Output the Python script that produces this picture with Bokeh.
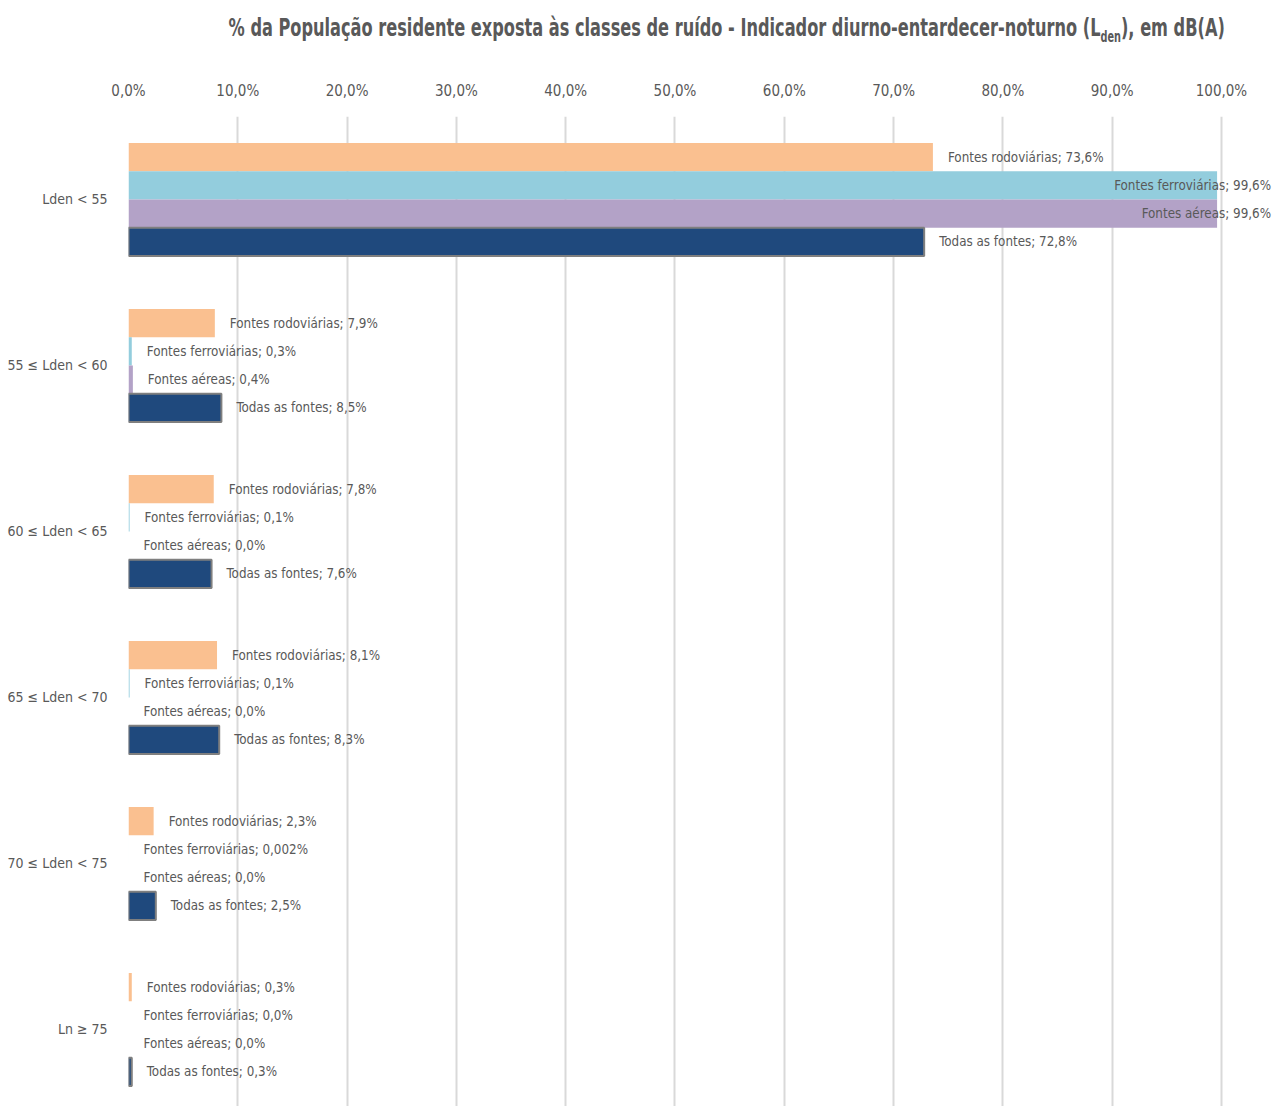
from bokeh.plotting import figure
from bokeh.models import Range1d, FixedTicker, ColumnDataSource, Div
from bokeh.layouts import column
from bokeh.core.properties import value
from bokeh.embed import file_html
from bokeh.resources import INLINE

# ---- data ----
categories = ["Lden < 55", "55 ≤ Lden < 60", "60 ≤ Lden < 65", "65 ≤ Lden < 70", "70 ≤ Lden < 75", "Ln ≥ 75"]
series_names = ["Fontes rodoviárias", "Fontes ferroviárias", "Fontes aéreas", "Todas as fontes"]
rodoviarias = [73.6, 7.9, 7.8, 8.1, 2.3, 0.3]
ferroviarias = [99.6, 0.3, 0.1, 0.1, 0.002, 0.0]
aereas = [99.6, 0.4, 0.0, 0.0, 0.0, 0.0]
todas = [72.8, 8.5, 7.6, 8.3, 2.5, 0.3]
x_ticks = [0, 10, 20, 30, 40, 50, 60, 70, 80, 90, 100]

FONT = "DejaVu Sans Condensed"
TXT = "#595959"
colors = ["#FAC090", "#93CDDD", "#B3A2C7", "#1F497D"]
offsets = [-0.255, -0.085, 0.085, 0.255]
BAR_H = 0.17

W = 1272
TITLE_H = 58
H = 1106 - TITLE_H

p = figure(width=W, height=H, x_range=Range1d(0, 104.67), y_range=Range1d(5.464, -0.5),
           x_axis_location="above", output_backend="svg", toolbar_location=None,
           min_border_left=128, min_border_right=0, min_border_top=TITLE_H, min_border_bottom=0,
           margin=(0, 0, 0, 0))
p.outline_line_color = None
p.background_fill_color = "white"
p.border_fill_color = "white"

def fmt(v):
    if 0 < v < 0.05:
        s = f"{v:.3f}"
    else:
        s = f"{v:.1f}"
    return s.replace(".", ",") + "%"

all_series = [rodoviarias, ferroviarias, aereas, todas]
lab_x, lab_y, lab_t, lab_al, lab_off = [], [], [], [], []
for si, (vals, col, off, name) in enumerate(zip(all_series, colors, offsets, series_names)):
    ys = [i + off for i in range(len(categories))]
    src = ColumnDataSource(dict(y=ys, right=vals))
    if si == 3:
        p.hbar(y="y", left=0, right="right", height=BAR_H, source=src, fill_color=col,
               line_color="#7F7F7F", line_width=2)
    else:
        p.hbar(y="y", left=0, right="right", height=BAR_H, source=src, fill_color=col,
               line_color=None)
    for i, v in enumerate(vals):
        lab_x.append(v)
        lab_y.append(i + off)
        lab_t.append(f"{name}; {fmt(v)}")
        if v > 95:
            lab_al.append("right")
            lab_off.append(54)
        else:
            lab_al.append("left")
            lab_off.append(15)

lsrc = ColumnDataSource(dict(x=lab_x, y=lab_y, text=lab_t, align=lab_al, xoff=lab_off))
p.text(x="x", y="y", text="text", source=lsrc, text_align="align", x_offset="xoff",
       text_baseline="middle", text_font=value(FONT), text_font_size="13.3px", text_color=TXT)

# grid
p.xgrid.ticker = FixedTicker(ticks=x_ticks)
p.xgrid.grid_line_color = "#D9D9D9"
p.xgrid.grid_line_width = 2
p.ygrid.grid_line_color = None

# top axis
xa = p.xaxis[0]
xa.ticker = FixedTicker(ticks=x_ticks)
xa.major_label_overrides = {t: f"{t:.1f}".replace(".", ",") + "%" for t in x_ticks}
xa.axis_line_color = None
xa.major_tick_line_color = None
xa.minor_tick_line_color = None
xa.major_label_standoff = 11
xa.major_label_text_font = FONT
xa.major_label_text_font_size = "15px"
xa.major_label_text_color = TXT

# left axis
ya = p.yaxis[0]
ya.ticker = FixedTicker(ticks=list(range(len(categories))))
ya.major_label_overrides = {i: c for i, c in enumerate(categories)}
ya.axis_line_color = None
ya.major_tick_line_color = None
ya.minor_tick_line_color = None
ya.major_label_standoff = 15
ya.major_label_text_font = FONT
ya.major_label_text_font_size = "14px"
ya.major_label_text_color = TXT

# title (HTML, with subscript)
title_html = (
    '<div style="width:1225px;height:%dpx;display:flex;justify-content:flex-end;'
    'align-items:flex-start;white-space:nowrap;">'
    '<span style="display:inline-block;transform:scaleX(0.647);transform-origin:100%% 50%%;'
    "font-family:'DejaVu Sans';font-weight:bold;font-size:25px;line-height:30px;"
    'color:#595959;margin-top:13px;">'
    '%% da População residente exposta às classes de ruído - Indicador diurno-entardecer-noturno '
    '(L<sub style="font-size:15px;line-height:0;">den</sub>), em dB(A)</span></div>'
) % TITLE_H
title = Div(text=title_html, width=W, height=TITLE_H, margin=(0, 0, 0, 0))

layout = column(title, p, spacing=0)
open("out.html", "w").write(file_html(layout, INLINE))
